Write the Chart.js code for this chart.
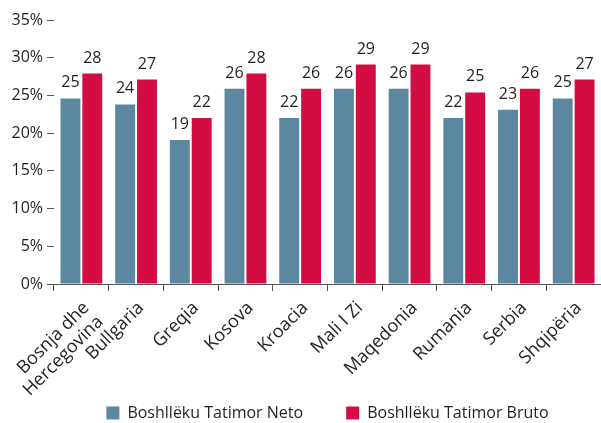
<!DOCTYPE html>
<html>
<head>
<meta charset="utf-8">
<script src="https://cdn.jsdelivr.net/npm/chart.js@4"></script>
<style>
html,body{margin:0;padding:0;background:#fff;}
#wrap{width:601px;height:423px;position:relative;}
</style>
</head>
<body>
<div id="wrap"><canvas id="c" width="601" height="423"></canvas></div>
<script>
const categories = [["Bosnja dhe","Hercegovina"],"Bullgaria","Greqia","Kosova","Kroacia","Mali I Zi","Maqedonia","Rumania","Serbia","Shqipëria"];
const netoValues = [24.6, 23.8, 19.1, 25.9, 22.0, 25.9, 25.9, 22.0, 23.1, 24.6];
const brutoValues = [27.9, 27.1, 22.0, 27.9, 25.9, 29.1, 29.1, 25.4, 25.9, 27.1];
const netoLabels = [25, 24, 19, 26, 22, 26, 26, 22, 23, 25];
const brutoLabels = [28, 27, 22, 28, 26, 29, 29, 25, 26, 27];
const seriesNames = ["Boshllëku Tatimor Neto", "Boshllëku Tatimor Bruto"];
const yTicks = [0, 5, 10, 15, 20, 25, 30, 35];

const FONT = "'Open Sans', 'Noto Sans', sans-serif";
const TXT = '#231f20';

const valueLabels = {
  id: 'valueLabels',
  afterDatasetsDraw(chart) {
    const ctx = chart.ctx;
    ctx.save();
    ctx.font = '16px ' + FONT;
    ctx.fillStyle = TXT;
    ctx.textAlign = 'center';
    ctx.textBaseline = 'alphabetic';
    chart.data.datasets.forEach((ds, i) => {
      const meta = chart.getDatasetMeta(i);
      meta.data.forEach((bar, j) => {
        ctx.fillText(String(ds.shownLabels[j]), bar.x, bar.y - 11);
      });
    });
    ctx.restore();
  }
};

new Chart(document.getElementById('c'), {
  type: 'bar',
  data: {
    labels: categories,
    datasets: [
      { label: seriesNames[0], data: netoValues, shownLabels: netoLabels, backgroundColor: '#5b87a1' },
      { label: seriesNames[1], data: brutoValues, shownLabels: brutoLabels, backgroundColor: '#d30c43' }
    ]
  },
  options: {
    responsive: false,
    animation: false,
    devicePixelRatio: 1,
    layout: { padding: { top: 20, right: -2, left: 0, bottom: -8 } },
    datasets: { bar: { categoryPercentage: 0.8, barPercentage: 0.91 } },
    plugins: {
      legend: {
        position: 'bottom',
        fullSize: false,
        labels: {
          font: { family: FONT, size: 16 },
          color: TXT,
          boxWidth: 13,
          boxHeight: 13,
          padding: 43
        }
      },
      tooltip: { enabled: false }
    },
    scales: {
      x: {
        afterFit(axis) {
          axis.height = 78;
          axis.paddingLeft = 0;
          axis.paddingRight = 0;
          axis._computeLabelArea = function () {
            return { top: this.top, left: 0, bottom: this.chart.height, right: this.chart.width };
          };
        },
        grid: { display: true, drawOnChartArea: false, drawTicks: true, tickLength: 7, color: '#555', offset: true },
        border: { display: true, color: '#555', width: 1 },
        ticks: {
          font: { family: FONT, size: 18, lineHeight: 1.1 },
          color: TXT,
          autoSkip: false,
          maxRotation: 45,
          minRotation: 45,
          padding: 7,
          labelOffset: 5
        }
      },
      y: {
        min: 0,
        max: 35,
        afterFit(axis) { axis.width = 54; },
        afterBuildTicks(axis) { axis.ticks = yTicks.map(v => ({ value: v })); },
        grid: { display: true, drawOnChartArea: false, drawTicks: true, tickLength: 7, color: '#555' },
        border: { display: false },
        ticks: {
          font: { family: FONT, size: 16 },
          color: TXT,
          padding: 4,
          callback: v => v + '%'
        }
      }
    }
  },
  plugins: [valueLabels]
});
</script>
</body>
</html>
